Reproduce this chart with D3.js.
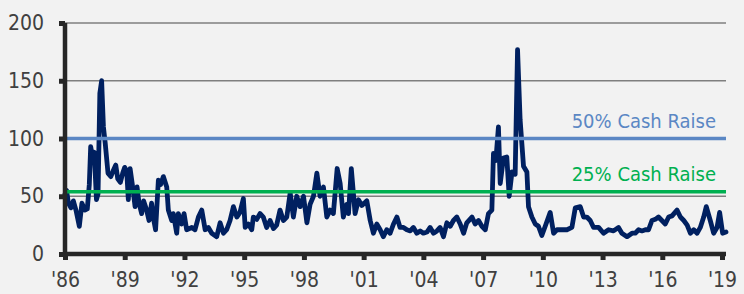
<!DOCTYPE html>
<html lang="en">
<meta charset="utf-8">
<head>
  <script src="https://cdn.jsdelivr.net/npm/d3@7"></script>
</head>
<body>

  <!-- div where the graph will take place -->
  <div id="my_dataviz"></div>

  <script>
    // series: decimal year and value
    var years = [
      1986.00, 1986.08, 1986.17, 1986.30, 1986.42, 1986.55, 1986.72, 1986.85, 1987.00, 1987.12,
      1987.22, 1987.29, 1987.37, 1987.47, 1987.58, 1987.66, 1987.75, 1987.84, 1987.93, 1988.02,
      1988.16, 1988.30, 1988.42, 1988.55, 1988.65, 1988.78, 1988.90, 1989.00, 1989.10, 1989.18,
      1989.27, 1989.40, 1989.52, 1989.62, 1989.72, 1989.85, 1989.95, 1990.10, 1990.22, 1990.35,
      1990.45, 1990.55, 1990.69, 1990.80, 1990.94, 1991.11, 1991.19, 1991.36, 1991.44, 1991.61,
      1991.69, 1991.86, 1991.98, 1992.11, 1992.37, 1992.53, 1992.70, 1992.87, 1993.04, 1993.20,
      1993.37, 1993.62, 1993.79, 1993.96, 1994.12, 1994.29, 1994.46, 1994.63, 1994.79, 1994.96,
      1995.05, 1995.21, 1995.38, 1995.46, 1995.63, 1995.80, 1995.96, 1996.13, 1996.30, 1996.47,
      1996.63, 1996.80, 1996.97, 1997.14, 1997.31, 1997.47, 1997.64, 1997.81, 1997.98, 1998.15,
      1998.31, 1998.48, 1998.65, 1998.81, 1998.98, 1999.15, 1999.32, 1999.48, 1999.67, 1999.82,
      1999.98, 2000.15, 2000.24, 2000.38, 2000.57, 2000.74, 2000.91, 2001.16, 2001.33, 2001.49,
      2001.66, 2001.83, 2001.99, 2002.16, 2002.33, 2002.50, 2002.67, 2002.83, 2003.00, 2003.17,
      2003.34, 2003.50, 2003.67, 2003.84, 2004.00, 2004.18, 2004.34, 2004.51, 2004.68, 2004.84,
      2005.01, 2005.18, 2005.35, 2005.51, 2005.68, 2005.85, 2006.02, 2006.18, 2006.44, 2006.60,
      2006.77, 2006.94, 2007.11, 2007.27, 2007.44, 2007.52, 2007.64, 2007.77, 2007.86, 2008.02,
      2008.19, 2008.31, 2008.45, 2008.61, 2008.73, 2008.86, 2009.03, 2009.20, 2009.28, 2009.45,
      2009.62, 2009.78, 2009.95, 2010.12, 2010.37, 2010.54, 2010.71, 2010.96, 2011.21, 2011.46,
      2011.63, 2011.88, 2012.05, 2012.21, 2012.38, 2012.55, 2012.80, 2013.05, 2013.30, 2013.55,
      2013.80, 2013.97, 2014.23, 2014.48, 2014.64, 2014.81, 2014.98, 2015.15, 2015.31, 2015.48,
      2015.65, 2015.81, 2015.98, 2016.15, 2016.32, 2016.49, 2016.74, 2016.91, 2017.08, 2017.25,
      2017.41, 2017.58, 2017.75, 2017.91, 2018.08, 2018.21, 2018.41, 2018.58, 2018.75, 2018.88,
      2019.03, 2019.20
    ];
    var values = [
      52, 55, 44, 40, 46, 38, 24, 44, 38, 39,
      60, 93, 85, 88, 47, 52, 139, 150, 110, 96,
      70, 67, 72, 77, 65, 62, 70, 75, 72, 47,
      74, 58, 41, 58, 44, 35, 46, 38, 29, 44,
      30, 21, 64, 60, 67, 58, 38, 29, 35, 18,
      35, 26, 35, 21, 23, 21, 32, 38, 21, 23,
      18, 15, 27, 18, 21, 29, 41, 32, 36, 48,
      23, 26, 21, 32, 30, 35, 32, 23, 29, 22,
      25, 38, 29, 32, 53, 32, 50, 41, 50, 27,
      43, 50, 70, 50, 58, 32, 38, 35, 74, 61,
      32, 43, 35, 74, 35, 47, 42, 46, 29, 18,
      26, 21, 15, 21, 18, 26, 32, 23, 23, 21,
      20, 23, 18, 20, 18, 19, 23, 18, 20, 23,
      15, 27, 24, 29, 32, 26, 18, 27, 32, 26,
      29, 24, 21, 35, 38, 87, 81, 110, 61, 83,
      84, 50, 71, 69, 177, 116, 76, 71, 41, 32,
      26, 24, 16, 24, 36, 18, 21, 21, 21, 23,
      40, 41, 32, 32, 29, 23, 23, 18, 21, 20,
      23, 18, 15, 18, 18, 21, 20, 21, 21, 29,
      30, 32, 29, 26, 32, 33, 38, 32, 29, 25,
      18, 21, 18, 23, 32, 41, 29, 18, 23, 36,
      18, 19
    ];

    // axis ticks
    var xTickYears = [1986, 1989, 1992, 1995, 1998, 2001, 2004, 2007, 2010, 2013, 2016, 2019];
    var xTickLabels = ["'86", "'89", "'92", "'95", "'98", "'01", "'04", "'07", "'10", "'13", "'16", "'19"];
    var yTicks = [0, 50, 100, 150, 200];

    // reference levels
    var levelValues = [100, 54];
    var levelLabels = ["50% Cash Raise", "25% Cash Raise"];
    var levelColors = ["#5b87c4", "#00b050"];

    var data = years.map(function (y, i) { return { year: y, value: values[i] }; });

    // set the dimensions and margins of the graph
    var margin = { top: 23, right: 18, bottom: 40, left: 65 },
      width = 744 - margin.left - margin.right,
      height = 294 - margin.top - margin.bottom;

    var font = "'Liberation Sans Narrow', 'Arial Narrow', 'DejaVu Sans Condensed', sans-serif";

    var svg = d3.select("#my_dataviz")
      .append("svg")
      .attr("width", 744)
      .attr("height", 294)
      .style("display", "block")
      .style("background", "#f2f2f2");

    var g = svg.append("g")
      .attr("transform", "translate(" + margin.left + "," + margin.top + ")");

    var x = d3.scaleLinear()
      .domain([1986, 2019.2])
      .range([0, width]);

    var y = d3.scaleLinear()
      .domain([0, 200])
      .range([height, 0]);

    // gridlines
    g.selectAll(".grid")
      .data(yTicks.slice(1))
      .enter()
      .append("line")
      .attr("x1", 0)
      .attr("x2", width)
      .attr("y1", function (d) { return y(d); })
      .attr("y2", function (d) { return y(d); })
      .attr("stroke", "#7f7f7f")
      .attr("stroke-width", 1.6);

    // the series
    var line = d3.line()
      .x(function (d) { return x(d.year); })
      .y(function (d) { return y(d.value); });

    g.append("path")
      .datum(data)
      .attr("d", line)
      .attr("fill", "none")
      .attr("stroke", "#002060")
      .attr("stroke-width", 4.8)
      .attr("stroke-linejoin", "round")
      .attr("stroke-linecap", "round");

    // reference lines on top of the series
    g.selectAll(".level")
      .data(levelValues)
      .enter()
      .append("line")
      .attr("x1", 0)
      .attr("x2", width)
      .attr("y1", function (d) { return y(d); })
      .attr("y2", function (d) { return y(d); })
      .attr("stroke", function (d, i) { return levelColors[i]; })
      .attr("stroke-width", 3.5);

    g.selectAll(".levelLabel")
      .data(levelValues)
      .enter()
      .append("text")
      .attr("x", width - 10)
      .attr("y", function (d) { return y(d) - 11; })
      .attr("text-anchor", "end")
      .attr("fill", function (d, i) { return levelColors[i]; })
      .style("font-family", font)
      .style("font-size", "20px")
      .text(function (d, i) { return levelLabels[i]; });

    // Y axis
    var yAxis = g.append("g")
      .call(d3.axisLeft(y).tickValues(yTicks).tickSize(6).tickPadding(15));

    // X axis
    var xAxis = g.append("g")
      .attr("transform", "translate(0," + height + ")")
      .call(d3.axisBottom(x).tickValues(xTickYears).tickSize(6).tickPadding(12)
        .tickFormat(function (d, i) { return xTickLabels[i]; }));

    [yAxis, xAxis].forEach(function (a) {
      a.select(".domain")
        .attr("stroke", "#262626")
        .attr("stroke-width", 4.5);
      a.selectAll(".tick line")
        .attr("stroke", "#262626")
        .attr("stroke-width", 5);
      a.selectAll(".tick text")
        .attr("fill", "#404040")
        .style("font-family", font)
        .style("font-size", "21px");
    });

    yAxis.select(".domain").attr("d", "M0," + (height + 2) + "V0");
    xAxis.select(".domain").attr("d", "M-2,0H" + width);
  </script>

  <style>
    body {
      margin: 0;
      background-color: #f2f2f2;
    }
  </style>

</body>
</html>
